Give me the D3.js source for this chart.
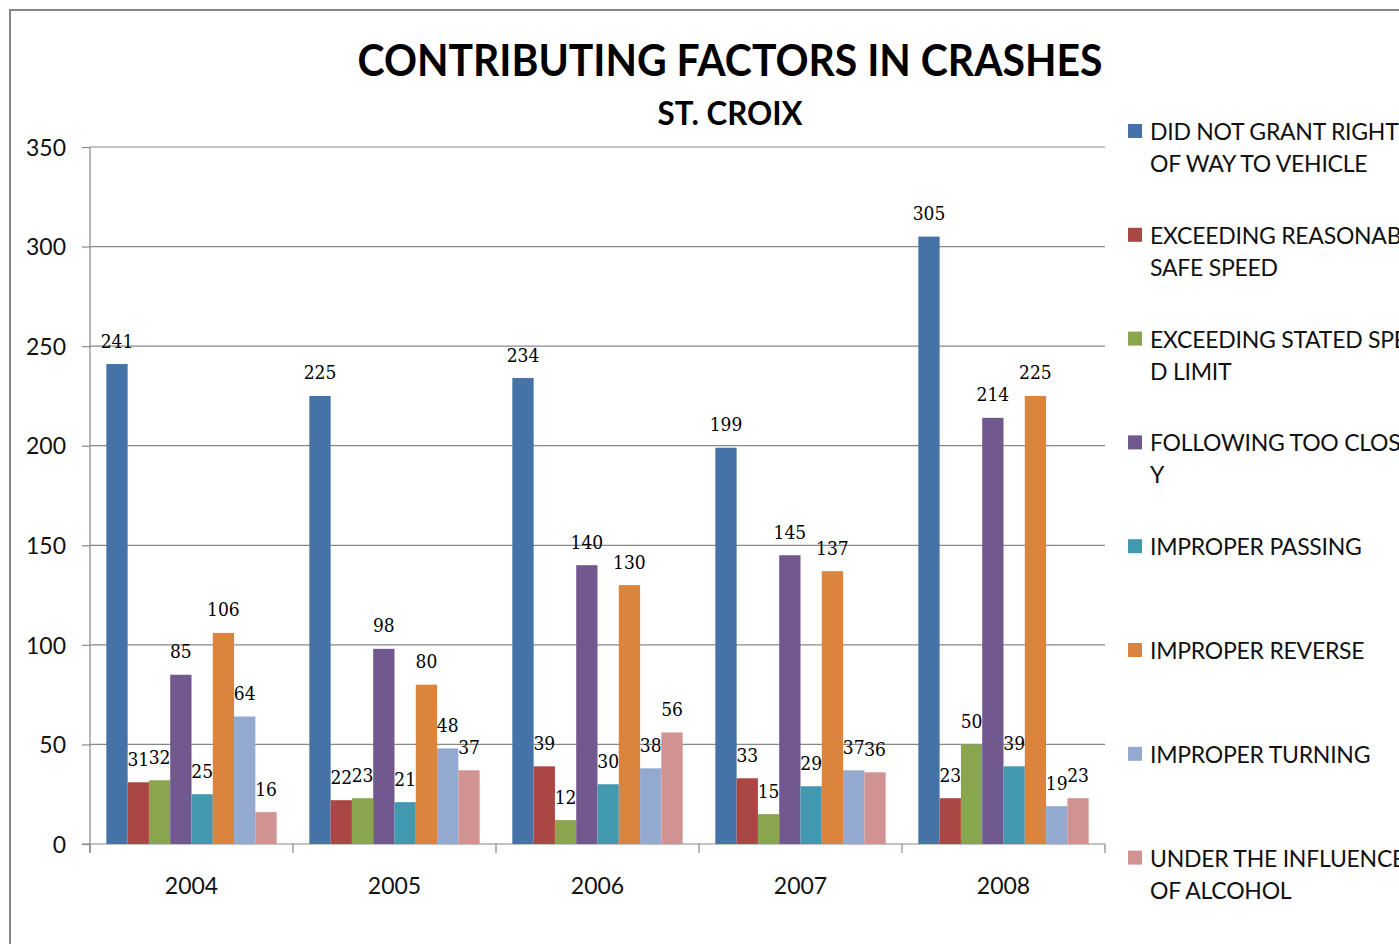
<!DOCTYPE html>
<html lang="en">
<head>
    <meta charset="UTF-8">
    <title>Contributing Factors in Crashes - St. Croix</title>
    <script src="https://d3js.org/d3.v7.min.js"></script>
    <style>
        body {
            margin: 0;
            background: #ffffff;
        }
        svg {
            display: block;
        }
        .tick-label {
            font-family: Lato, 'Open Sans', sans-serif;
            font-size: 23px;
            fill: #111;
        }
        .data-label {
            font-family: 'DejaVu Serif Condensed', 'DejaVu Serif', serif;
            font-stretch: condensed;
            font-size: 19px;
            fill: #000;
        }
    </style>
</head>
<body>
    <div id="chart"></div>

    <script>
        // Chart data
        const years = ["2004", "2005", "2006", "2007", "2008"];

        const seriesNames = [
            "DID NOT GRANT RIGHT OF WAY TO VEHICLE",
            "EXCEEDING REASONABLY SAFE SPEED",
            "EXCEEDING STATED SPEED LIMIT",
            "FOLLOWING TOO CLOSELY",
            "IMPROPER PASSING",
            "IMPROPER REVERSE",
            "IMPROPER TURNING",
            "UNDER THE INFLUENCE OF ALCOHOL"
        ];

        // legend text as wrapped in the original (right side is cut off)
        const legendLines = [
            ["DID NOT GRANT RIGHT", "OF WAY TO VEHICLE"],
            ["EXCEEDING REASONABLY", "SAFE SPEED"],
            ["EXCEEDING STATED SPEE", "D LIMIT"],
            ["FOLLOWING TOO CLOSEL", "Y"],
            ["IMPROPER PASSING"],
            ["IMPROPER REVERSE"],
            ["IMPROPER TURNING"],
            ["UNDER THE INFLUENCE", "OF ALCOHOL"]
        ];

        const didNotGrant   = [241, 225, 234, 199, 305];
        const reasonable    = [31, 22, 39, 33, 23];
        const statedLimit   = [32, 23, 12, 15, 50];
        const tooClosely    = [85, 98, 140, 145, 214];
        const passing       = [25, 21, 30, 29, 39];
        const reverse       = [106, 80, 130, 137, 225];
        const turning       = [64, 48, 38, 37, 19];
        const alcohol       = [16, 37, 56, 36, 23];

        const seriesValues = [didNotGrant, reasonable, statedLimit, tooClosely, passing, reverse, turning, alcohol];

        const yTicks = [0, 50, 100, 150, 200, 250, 300, 350];

        const colors = ["#4572A7", "#AA4643", "#89A54E", "#71588F", "#4198AF", "#DB843D", "#93A9CF", "#D19392"];

        // Dimensions
        const width = 1399, height = 944;
        const plot = { left: 90, right: 1105, top: 147, bottom: 844 };

        const svg = d3.select("#chart").append("svg")
            .attr("width", width).attr("height", height);

        svg.append("rect")
            .attr("width", width).attr("height", height)
            .attr("fill", "#fff");

        // outer chart frame (runs off the right and bottom edge)
        svg.append("rect")
            .attr("x", 10).attr("y", 10)
            .attr("width", 1500).attr("height", 1000)
            .attr("fill", "none")
            .attr("stroke", "#868686")
            .attr("stroke-width", 2);

        // Titles
        svg.append("text")
            .attr("x", 730).attr("y", 76)
            .attr("text-anchor", "middle")
            .attr("textLength", 745)
            .attr("lengthAdjust", "spacingAndGlyphs")
            .style("font-family", "Lato, 'Open Sans', sans-serif")
            .style("font-weight", "bold")
            .style("font-size", "44px")
            .text("CONTRIBUTING FACTORS IN CRASHES");

        svg.append("text")
            .attr("x", 730).attr("y", 125)
            .attr("text-anchor", "middle")
            .attr("textLength", 145)
            .attr("lengthAdjust", "spacingAndGlyphs")
            .style("font-family", "Lato, 'Open Sans', sans-serif")
            .style("font-weight", "bold")
            .style("font-size", "33px")
            .text("ST. CROIX");

        // Scales
        const y = d3.scaleLinear().domain([0, 350]).range([plot.bottom, plot.top]);

        const x0 = d3.scaleBand()
            .domain(years)
            .range([plot.left, plot.right])
            .paddingInner(0.161)
            .paddingOuter(0.0805);

        const x1 = d3.scaleBand()
            .domain(d3.range(seriesNames.length))
            .range([0, x0.bandwidth()]);

        // Gridlines
        svg.append("g")
            .selectAll("line")
            .data(yTicks.slice(1))
            .join("line")
            .attr("x1", plot.left).attr("x2", plot.right)
            .attr("y1", d => y(d)).attr("y2", d => y(d))
            .attr("stroke", "#888")
            .attr("stroke-width", 1.2);

        // Y axis
        const yAxis = svg.append("g")
            .attr("transform", `translate(${plot.left},0)`)
            .call(d3.axisLeft(y).tickValues(yTicks).tickSize(8).tickPadding(16));
        yAxis.select(".domain").attr("stroke", "#888").attr("stroke-width", 1.2)
            .attr("d", `M0,${plot.top}V${plot.bottom + 9}`);
        yAxis.selectAll(".tick line").attr("stroke", "#888").attr("stroke-width", 1.2);
        yAxis.selectAll(".tick text").attr("class", "tick-label").attr("dy", "0.36em");

        // X axis with ticks on category boundaries
        const xAxis = svg.append("g")
            .attr("transform", `translate(0,${plot.bottom})`);
        xAxis.append("line")
            .attr("x1", plot.left - 8).attr("x2", plot.right)
            .attr("stroke", "#888").attr("stroke-width", 1.2);
        const step = (plot.right - plot.left) / years.length;
        xAxis.selectAll(".xt")
            .data(d3.range(years.length + 1))
            .join("line")
            .attr("class", "xt")
            .attr("x1", d => plot.left + d * step).attr("x2", d => plot.left + d * step)
            .attr("y1", 0).attr("y2", 9)
            .attr("stroke", "#888").attr("stroke-width", 1.2);
        xAxis.selectAll(".xl")
            .data(years)
            .join("text")
            .attr("class", "tick-label xl")
            .attr("x", d => x0(d) + x0.bandwidth() / 2)
            .attr("y", 50)
            .attr("text-anchor", "middle")
            .text(d => d);

        // Bars
        const cells = [];
        years.forEach((yr, i) => {
            seriesValues.forEach((vals, s) => {
                cells.push({ year: yr, s: s, value: vals[i] });
            });
        });

        svg.append("g")
            .selectAll("rect")
            .data(cells)
            .join("rect")
            .attr("x", d => x0(d.year) + x1(d.s))
            .attr("y", d => y(d.value))
            .attr("width", x1.bandwidth())
            .attr("height", d => y(0) - y(d.value))
            .attr("fill", d => colors[d.s]);

        // Data labels
        svg.append("g")
            .selectAll("text")
            .data(cells)
            .join("text")
            .attr("class", "data-label")
            .attr("x", d => x0(d.year) + x1(d.s) + x1.bandwidth() / 2)
            .attr("y", d => y(d.value) - 16.5)
            .attr("text-anchor", "middle")
            .text(d => d.value);

        // Legend
        const legend = svg.append("g")
            .attr("transform", "translate(1128,140)");

        const item = legend.selectAll("g")
            .data(legendLines)
            .join("g")
            .attr("transform", (d, i) => `translate(0,${i * 103.8})`);

        item.append("rect")
            .attr("x", 0).attr("y", -16)
            .attr("width", 14).attr("height", 14)
            .attr("fill", (d, i) => colors[i]);

        item.append("text")
            .style("font-family", "Lato, 'Open Sans', sans-serif")
            .style("font-size", "23px")
            .style("letter-spacing", "-0.25px")
            .attr("fill", "#111")
            .selectAll("tspan")
            .data(d => d)
            .join("tspan")
            .attr("x", 22)
            .attr("y", (d, j) => j * 32)
            .text(d => d);
    </script>
</body>
</html>
